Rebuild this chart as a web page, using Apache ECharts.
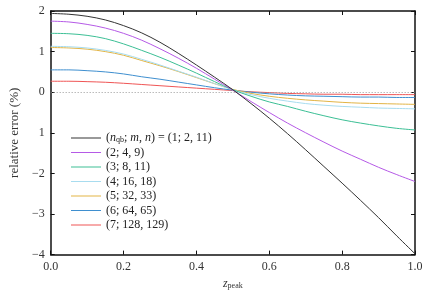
<!DOCTYPE html>
<html><head><meta charset="utf-8">
<script src="https://cdn.jsdelivr.net/npm/echarts@6/dist/echarts.min.js"></script>
<style>html,body{margin:0;padding:0;background:#fff}#c{width:431px;height:295px}</style>
</head><body><div id="c"></div>
<script>
const xs = [0,0.05,0.1,0.15,0.2,0.25,0.3,0.35,0.4,0.45,0.5,0.55,0.6,0.65,0.7,0.75,0.8,0.85,0.9,0.95,1.0];
const s1 = [1.94,1.92,1.87,1.78,1.64,1.46,1.23,0.96,0.67,0.37,0.06,-0.28,-0.64,-1.02,-1.42,-1.83,-2.24,-2.66,-3.09,-3.54,-3.98];
const s2 = [1.75,1.73,1.67,1.58,1.45,1.28,1.07,0.84,0.59,0.32,0.05,-0.23,-0.50,-0.76,-1.0,-1.23,-1.45,-1.65,-1.85,-2.03,-2.2];
const s3 = [1.45,1.44,1.40,1.32,1.19,1.03,0.86,0.67,0.47,0.26,0.06,-0.10,-0.24,-0.35,-0.47,-0.58,-0.68,-0.76,-0.83,-0.89,-0.93];
const s4 = [1.13,1.12,1.09,1.03,0.94,0.81,0.67,0.52,0.37,0.21,0.06,-0.06,-0.15,-0.22,-0.28,-0.32,-0.35,-0.37,-0.39,-0.40,-0.41];
const s5 = [1.10,1.09,1.06,1.00,0.91,0.78,0.65,0.51,0.36,0.21,0.07,-0.03,-0.10,-0.15,-0.19,-0.22,-0.25,-0.27,-0.28,-0.29,-0.30];
const s6 = [0.55,0.55,0.53,0.50,0.45,0.38,0.32,0.25,0.18,0.11,0.05,0.0,-0.04,-0.07,-0.09,-0.10,-0.11,-0.12,-0.12,-0.13,-0.13];
const s7 = [0.27,0.27,0.26,0.245,0.22,0.19,0.16,0.13,0.10,0.07,0.04,0.01,-0.01,-0.03,-0.04,-0.05,-0.05,-0.06,-0.06,-0.06,-0.06];
const names = ['(1; 2, 11)','(2; 4, 9)','(3; 8, 11)','(4; 16, 18)','(5; 32, 33)','(6; 64, 65)','(7; 128, 129)'];
const seriesVals = [s1,s2,s3,s4,s5,s6,s7];
const colors = ['#333333','#b55ae6','#3cbf95','#a8dcef','#e2b445','#3f8fcf','#ef5555'];
const xTicks = [0,0.2,0.4,0.6,0.8,1.0];
const yTickLabels = {'2':'2','1':'1','0':'0','-1':'1','-2':'\u22122','-3':'\u22123','-4':'\u22124'};

const FONT = 'Liberation Serif';
const chart = echarts.init(document.getElementById('c'), null, {renderer:'canvas'});
const series = seriesVals.map((vals,i)=>({
  name: names[i], type:'line', data: xs.map((x,j)=>[x,vals[j]]),
  smooth: 0.35, showSymbol:false, symbol:'none',
  lineStyle:{color:colors[i], width:1}, itemStyle:{color:colors[i]},
  z: 10 - i,
  markLine: i===0 ? {silent:true, symbol:'none', label:{show:false},
    lineStyle:{color:'#999', type:[1,2], width:1}, data:[{yAxis:0}]} : undefined
}));
const axisLineStyle = {color:'#111', width:1.5};
chart.setOption({
  animation:false,
  textStyle:{fontFamily:FONT},
  grid:{left:47, right:16, top:11, bottom:34, containLabel:false},
  legend:{
    orient:'vertical', left:66, top:127, itemWidth:30, itemHeight:1, itemGap:2.5,
    icon:'rect',
    data: names,
    textStyle:{fontFamily:FONT, fontSize:12, color:'#222', lineHeight:12,
      rich:{i:{fontStyle:'italic', fontFamily:FONT, fontSize:12, color:'#222', lineHeight:12},
            s:{fontFamily:FONT, fontSize:8, color:'#222', lineHeight:9, padding:[3,0,0,0]},
            r:{fontFamily:FONT, fontSize:12, color:'#222', lineHeight:12}}},
    formatter: n => n===names[0] ? '{r|(}{i|n}{s|qb}{r|; }{i|m}{r|, }{i|n}{r|) = (1; 2, 11)}' : n
  },
  xAxis:[{
    type:'value', min:0, max:1, interval:0.2, position:'bottom',
    axisLine:{show:true, onZero:false, lineStyle:axisLineStyle},
    axisTick:{show:true, inside:true, length:4, lineStyle:{color:'#111'}},
    axisLabel:{fontFamily:FONT, fontSize:12, color:'#333', margin:6, formatter:v=>v.toFixed(1)},
    splitLine:{show:false},
    name:'{i|z}{s|peak}', nameLocation:'middle', nameGap:17,
    nameTextStyle:{rich:{i:{fontStyle:'italic', fontFamily:FONT, fontSize:12, color:'#333'},
      s:{fontFamily:FONT, fontSize:8, color:'#333', padding:[5,0,0,0]}}}
  },{
    type:'value', min:0, max:1, interval:0.2, position:'top',
    axisLine:{show:true, onZero:false, lineStyle:axisLineStyle},
    axisTick:{show:true, inside:true, length:4, lineStyle:{color:'#111'}},
    axisLabel:{show:false}, splitLine:{show:false}
  }],
  yAxis:[{
    type:'value', min:-4, max:2, interval:1, position:'left',
    axisLine:{show:true, onZero:false, lineStyle:axisLineStyle},
    axisTick:{show:true, inside:true, length:4, lineStyle:{color:'#111'}},
    axisLabel:{fontFamily:FONT, fontSize:12, color:'#333', margin:6, formatter:v=>yTickLabels[String(v)]},
    splitLine:{show:false},
    name:'relative error (%)', nameLocation:'middle', nameGap:27, nameRotate:90,
    nameTextStyle:{fontFamily:FONT, fontSize:13, color:'#333'}
  },{
    type:'value', min:-4, max:2, interval:1, position:'right',
    axisLine:{show:true, onZero:false, lineStyle:axisLineStyle},
    axisTick:{show:true, inside:true, length:4, lineStyle:{color:'#111'}},
    axisLabel:{show:false}, splitLine:{show:false}
  }],
  series: series
});
</script></body></html>
